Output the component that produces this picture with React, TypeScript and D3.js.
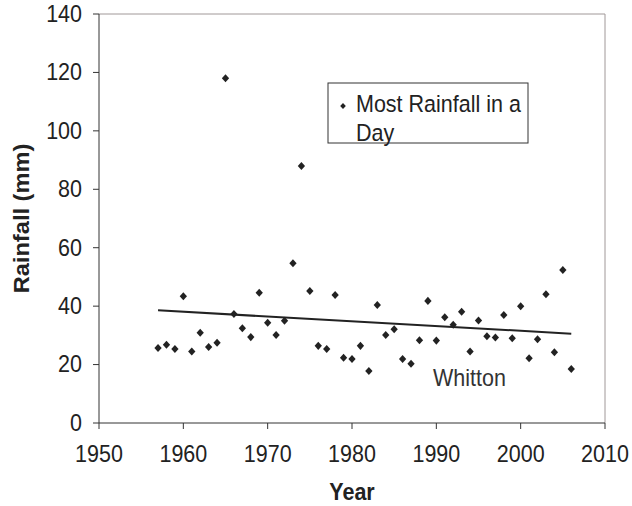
import * as d3 from 'd3';
import type { ReactNode } from 'react';

// Whitton, most rainfall in a single day per year
const years = [
	1957, 1958, 1959, 1960, 1961, 1962, 1963, 1964, 1965, 1966, 1967, 1968, 1969,
	1970, 1971, 1972, 1973, 1974, 1975, 1976, 1977, 1978, 1979, 1980, 1981, 1982,
	1983, 1984, 1985, 1986, 1987, 1988, 1989, 1990, 1991, 1992, 1993, 1994, 1995,
	1996, 1997, 1998, 1999, 2000, 2001, 2002, 2003, 2004, 2005, 2006,
];
const rainfall = [
	25.7, 26.8, 25.3, 43.4, 24.5, 30.9, 26.0, 27.5, 118.0, 37.3, 32.4, 29.4, 44.6,
	34.3, 30.1, 35.0, 54.7, 88.0, 45.2, 26.4, 25.3, 43.8, 22.3, 21.9, 26.4, 17.8,
	40.4, 30.1, 32.1, 21.9, 20.3, 28.3, 41.8, 28.2, 36.2, 33.6, 38.1, 24.5, 35.1,
	29.7, 29.3, 37.0, 29.0, 40.0, 22.2, 28.7, 44.1, 24.2, 52.4, 18.5,
];
const xTicks = [1950, 1960, 1970, 1980, 1990, 2000, 2010];
const yTicks = [0, 20, 40, 60, 80, 100, 120, 140];
const legendLines = ['Most Rainfall in a', 'Day'];
const siteLabel = 'Whitton';

const svgWidth = 632,
	svgHeight = 506;
const margin = { left: 99, right: 27, top: 14, bottom: 83 };
const font = '"Liberation Sans", Arial, sans-serif';
const fontSize = 21.5;
const stretch = 1.1; // glyphs in the original are a little taller than wide

// text drawn at (x, y), centred vertically, slightly stretched
function Label({
	x,
	y,
	anchor = 'start',
	bold = false,
	rotate = 0,
	fill = '#222',
	children,
}: {
	x: number;
	y: number;
	anchor?: 'start' | 'middle' | 'end';
	bold?: boolean;
	rotate?: number;
	fill?: string;
	children: ReactNode;
}) {
	const scale = rotate ? `scale(${stretch}, 1)` : `scale(1, ${stretch})`;
	return (
		<text
			transform={`translate(${x}, ${y}) rotate(${rotate}) ${scale}`}
			textAnchor={anchor}
			dominantBaseline="central"
			fontSize={fontSize}
			fontWeight={bold ? 'bold' : 'normal'}
			fill={fill}
		>
			{children}
		</text>
	);
}

export default function App() {
	const innerWidth = svgWidth - margin.left - margin.right;
	const innerHeight = svgHeight - margin.top - margin.bottom;

	const xScale = d3.scaleLinear().domain([1950, 2010]).range([0, innerWidth]);
	const yScale = d3.scaleLinear().domain([0, 140]).range([innerHeight, 0]);

	// least squares trend line
	const mx = d3.mean(years)!;
	const my = d3.mean(rainfall)!;
	const sxy = d3.sum(years, (x, i) => (x - mx) * (rainfall[i] - my));
	const sxx = d3.sum(years, (x) => (x - mx) ** 2);
	const slope = sxy / sxx;
	const intercept = my - slope * mx;
	const x0 = years[0],
		x1 = years[years.length - 1];
	const trend = [
		{ x: x0, y: intercept + slope * x0 },
		{ x: x1, y: intercept + slope * x1 },
	];
	const lineGenerator = d3
		.line<{ x: number; y: number }>()
		.x((d) => xScale(d.x))
		.y((d) => yScale(d.y));

	const diamond = d3.symbol(d3.symbolDiamond2, 34)()!;
	const color = '#222';

	return (
		<svg
			width={svgWidth}
			height={svgHeight}
			style={{ position: 'absolute', left: 0, top: 0, background: 'white' }}
			fontFamily={font}
		>
			<g transform={`translate(${margin.left}, ${margin.top})`}>
				{/* frame */}
				<line x1={0} x2={innerWidth} y1={0} y2={0} stroke="#a09898" />
				<line x1={innerWidth} x2={innerWidth} y1={0} y2={innerHeight} stroke="#a09898" />

				{/* left axis */}
				<line x1={0} x2={0} y1={0} y2={innerHeight} stroke="#333" />
				{yTicks.map((d) => (
					<g key={d}>
						<line x1={-6} x2={0} y1={yScale(d)} y2={yScale(d)} stroke="#333" />
						<Label x={-17} y={yScale(d)} anchor="end">
							{d}
						</Label>
					</g>
				))}
				<Label x={-77} y={innerHeight / 2} anchor="middle" rotate={-90} bold>
					Rainfall (mm)
				</Label>

				{/* bottom axis */}
				<line x1={0} x2={innerWidth} y1={innerHeight} y2={innerHeight} stroke="#333" />
				{xTicks.map((d) => (
					<g key={d}>
						<line x1={xScale(d)} x2={xScale(d)} y1={innerHeight} y2={innerHeight + 6} stroke="#333" />
						<Label x={xScale(d)} y={innerHeight + 31} anchor="middle">
							{d}
						</Label>
					</g>
				))}
				<Label x={innerWidth / 2} y={innerHeight + 69} anchor="middle" bold>
					Year
				</Label>

				{/* trend */}
				<path d={lineGenerator(trend)!} stroke={color} strokeWidth={2} fill="none" />

				{/* points */}
				{years.map((x, i) => (
					<path
						key={x}
						d={diamond}
						transform={`translate(${xScale(x)}, ${yScale(rainfall[i])}) scale(1, 1.1)`}
						fill={color}
					/>
				))}

				<Label x={334} y={364} fill="#333">
					{siteLabel}
				</Label>

				{/* legend */}
				<g transform="translate(229, 69)">
					<rect width={200} height={60} fill="white" stroke="#333" />
					<path d={d3.symbol(d3.symbolDiamond2, 20)()!} transform="translate(15, 23) scale(1, 1.1)" fill={color} />
					{legendLines.map((t, i) => (
						<Label key={t} x={28} y={21 + i * 29}>
							{t}
						</Label>
					))}
				</g>
			</g>
		</svg>
	);
}
